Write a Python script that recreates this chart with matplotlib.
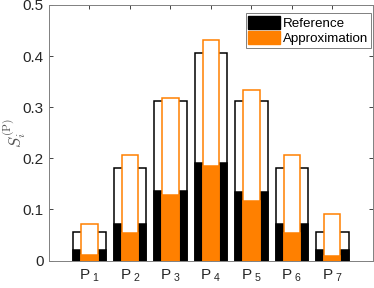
import matplotlib
matplotlib.use("Agg")
import matplotlib.pyplot as plt
from matplotlib.patches import Patch
import numpy as np

plt.rcParams['font.family'] = ['Liberation Sans', 'DejaVu Sans']
plt.rcParams['mathtext.fontset'] = 'cm'

categories = [r'$\mathregular{P_{\ 1}}$', r'$\mathregular{P_{\ 2}}$', r'$\mathregular{P_{\ 3}}$',
              r'$\mathregular{P_{\ 4}}$', r'$\mathregular{P_{\ 5}}$', r'$\mathregular{P_{\ 6}}$',
              r'$\mathregular{P_{\ 7}}$']
ref_total = [0.0556, 0.181, 0.313, 0.406, 0.312, 0.181, 0.0556]
ref_first = [0.021, 0.071, 0.136, 0.190, 0.135, 0.071, 0.020]
app_total = [0.072, 0.207, 0.318, 0.432, 0.333, 0.207, 0.091]
app_first = [0.011, 0.055, 0.128, 0.185, 0.117, 0.055, 0.009]
yticks = [0, 0.1, 0.2, 0.3, 0.4, 0.5]
ytick_labels = ['0', '0.1', '0.2', '0.3', '0.4', '0.5']

orange = '#FF8000'
axcol = '#262626'

fig = plt.figure(figsize=(3.74, 2.88), dpi=100)
ax = fig.add_axes([0.131, 0.095, 0.866, 0.888])

x = np.arange(1, len(categories) + 1)
lw = 1.1
ax.bar(x, ref_total, width=0.8, facecolor='white', edgecolor='black', linewidth=lw, zorder=2)
ax.bar(x, ref_first, width=0.8, facecolor='black', edgecolor='black', linewidth=lw, zorder=3)
ax.bar(x, app_total, width=0.4, facecolor='white', edgecolor=orange, linewidth=lw, zorder=4)
ax.bar(x, app_first, width=0.4, facecolor=orange, edgecolor=orange, linewidth=lw, zorder=5)

ax.set_xlim(0, 8)
ax.set_ylim(0, 0.5)
ax.set_xticks(x)
ax.set_xticklabels(categories, fontsize=11, color=axcol)
ax.set_yticks(yticks)
ax.set_yticklabels(ytick_labels, fontsize=11, color=axcol)
ax.tick_params(direction='in', top=True, right=True, length=3, width=0.6, colors=axcol)
ax.tick_params(axis='y', pad=4)
ax.tick_params(axis='x', pad=5)
for s in ax.spines.values():
    s.set_color('#808080')
    s.set_linewidth(0.7)
    s.set_zorder(6)

ax.set_ylabel(r'$S_i^{(\mathrm{P})}$', fontsize=12, color='#555555')
ax.yaxis.set_label_coords(-0.066, 0.5)

handles = [Patch(facecolor='black', edgecolor='black', label='Reference'),
           Patch(facecolor=orange, edgecolor=orange, label='Approximation')]
leg = ax.legend(handles=handles, loc='upper right', fontsize=9.6, fancybox=False,
                framealpha=1, edgecolor='#808080', borderpad=0.2, handlelength=2.4,
                handleheight=1.15, handletextpad=0.2, labelspacing=0.1,
                bbox_to_anchor=(371 / 374, (288 - 13) / 288),
                bbox_transform=fig.transFigure, borderaxespad=0)
leg.get_frame().set_linewidth(0.7)
leg.set_zorder(10)

fig.savefig('out.png', dpi=100)
